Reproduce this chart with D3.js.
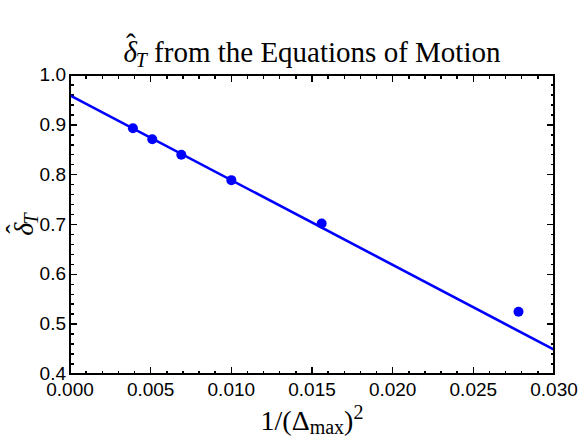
<!DOCTYPE html>
<html>
<head>
<style>
body { margin: 0; background: white; }
text.tick { font-family: "Liberation Sans", Arial, sans-serif; font-size: 19px; }
text.serif { font-family: "Liberation Serif", "Times New Roman", serif; }
.frame { fill: none; stroke: black; stroke-width: 2; }
.ticks line { stroke: black; stroke-width: 1.5; shape-rendering: crispEdges; }
</style>
</head>
<body>
<div id="chart"></div>
<script src="https://cdn.jsdelivr.net/npm/d3@7"></script>
<script>
    var dimensions = { width: 581, height: 439 };
    var margins = { top: 75, right: 27, bottom: 65, left: 70 };

    // data points: x = 1/(Delta_max)^2, y = delta_T hat
    var xVals = [0.0039, 0.0051, 0.0069, 0.0100, 0.0156, 0.0278];
    var yVals = [0.893, 0.871, 0.840, 0.789, 0.702, 0.525];
    // linear fit end points
    var fitX = [0, 0.03];
    var fitY = [0.959, 0.449];

    var xTicks = [0, 0.005, 0.010, 0.015, 0.020, 0.025, 0.030];
    var xTickLabels = ["0.000", "0.005", "0.010", "0.015", "0.020", "0.025", "0.030"];
    var yTicks = [0.4, 0.5, 0.6, 0.7, 0.8, 0.9, 1.0];
    var yTickLabels = ["0.4", "0.5", "0.6", "0.7", "0.8", "0.9", "1.0"];

    var x0 = margins.left, x1 = dimensions.width - margins.right;
    var y0 = dimensions.height - margins.bottom, y1 = margins.top;

    var xscale = d3.scaleLinear().domain([0, 0.03]).range([x0, x1]);
    var yscale = d3.scaleLinear().domain([0.4, 1.0]).range([y0, y1]);

    var svg = d3.select("#chart")
        .append("svg")
        .attr("width", dimensions.width)
        .attr("height", dimensions.height);

    // minor ticks
    var xMinor = d3.range(0, 31).map(function(i) { return i * 0.001; });
    var yMinor = d3.range(0, 31).map(function(i) { return 0.4 + i * 0.02; });

    var gt = svg.append("g").attr("class", "ticks");
    function tickLen(v, majors) {
        return majors.some(function(m) { return Math.abs(m - v) < 1e-9; }) ? 7 : 3.5;
    }
    xMinor.forEach(function(v) {
        var px = xscale(v), len = tickLen(v, xTicks);
        gt.append("line").attr("x1", px).attr("x2", px).attr("y1", y0).attr("y2", y0 - len);
        gt.append("line").attr("x1", px).attr("x2", px).attr("y1", y1).attr("y2", y1 + len);
    });
    yMinor.forEach(function(v) {
        var py = yscale(v), len = tickLen(v, yTicks);
        gt.append("line").attr("y1", py).attr("y2", py).attr("x1", x0).attr("x2", x0 + len);
        gt.append("line").attr("y1", py).attr("y2", py).attr("x1", x1).attr("x2", x1 - len);
    });

    // fit line
    svg.append("line")
        .attr("x1", xscale(fitX[0])).attr("y1", yscale(fitY[0]))
        .attr("x2", xscale(fitX[1])).attr("y2", yscale(fitY[1]))
        .attr("stroke", "#0000ff")
        .attr("stroke-width", 2.6);

    // points
    svg.append("g").selectAll("circle")
        .data(xVals)
        .enter().append("circle")
        .attr("cx", function(d) { return xscale(d); })
        .attr("cy", function(d, i) { return yscale(yVals[i]); })
        .attr("r", 5)
        .attr("fill", "#0000ff");

    // frame
    svg.append("rect")
        .attr("class", "frame")
        .attr("x", x0).attr("y", y1)
        .attr("width", x1 - x0).attr("height", y0 - y1);

    // tick labels
    svg.append("g").selectAll("text")
        .data(xTicks)
        .enter().append("text")
        .attr("class", "tick")
        .attr("x", function(d) { return xscale(d); })
        .attr("y", y0 + 22)
        .attr("text-anchor", "middle")
        .text(function(d, i) { return xTickLabels[i]; });
    svg.append("g").selectAll("text")
        .data(yTicks)
        .enter().append("text")
        .attr("class", "tick")
        .attr("x", x0 - 4)
        .attr("y", function(d) { return yscale(d) + 6; })
        .attr("text-anchor", "end")
        .text(function(d, i) { return yTickLabels[i]; });

    // delta-hat with subscript T, hat drawn as its own glyph above the delta
    function deltaHatT(sel) {
        sel.append("tspan").attr("font-style", "italic").text("\u03b4");
        sel.append("tspan").attr("dx", -11).attr("dy", -8).text("\u02c6");
        sel.append("tspan").attr("font-style", "italic").attr("font-size", 20)
            .attr("dx", 0).attr("dy", 13).text("T");
    }

    // title
    var title = svg.append("text")
        .attr("class", "serif")
        .attr("x", (x0 + x1) / 2)
        .attr("y", 62)
        .attr("text-anchor", "middle")
        .attr("font-size", 29);
    deltaHatT(title);
    title.append("tspan").attr("dy", -5).text(" from the Equations of Motion");

    // x label
    var xl = svg.append("text")
        .attr("class", "serif")
        .attr("x", (x0 + x1) / 2)
        .attr("y", 430)
        .attr("text-anchor", "middle")
        .attr("font-size", 28);
    xl.append("tspan").text("1/(\u0394");
    xl.append("tspan").attr("font-size", 20).attr("dy", 4).text("max");
    xl.append("tspan").attr("dy", -4).text(")");
    xl.append("tspan").attr("font-size", 20).attr("dy", -11).text("2");

    // y label
    var yl = svg.append("text")
        .attr("class", "serif")
        .attr("transform", "translate(33," + ((y0 + y1) / 2) + ") rotate(-90)")
        .attr("text-anchor", "middle")
        .attr("font-size", 28);
    deltaHatT(yl);
</script>
</body>
</html>
